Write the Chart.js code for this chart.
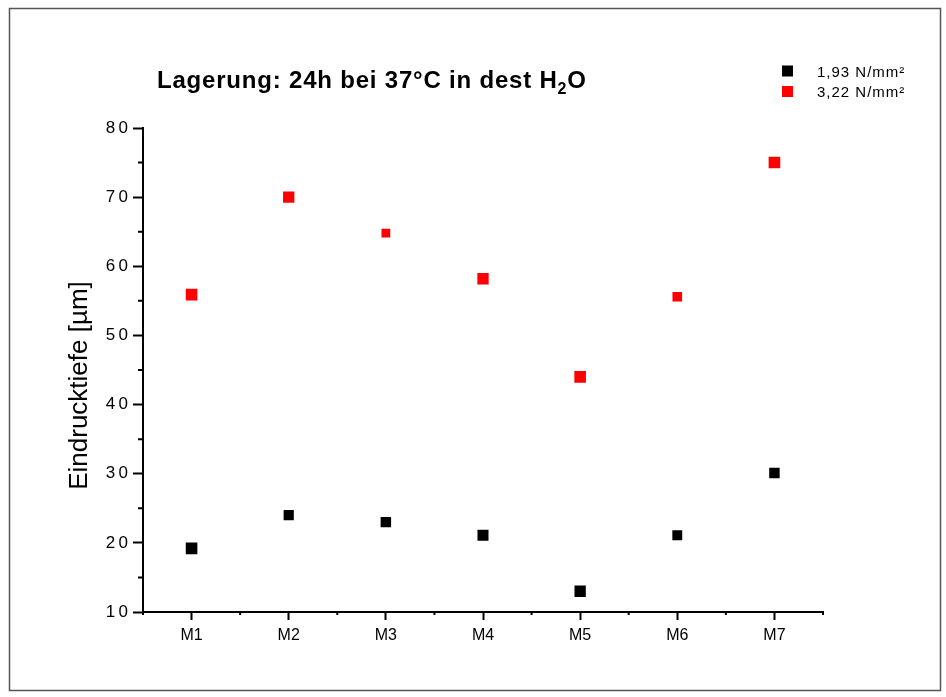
<!DOCTYPE html>
<html lang="de">
<head>
<meta charset="utf-8">
<title>Lagerung: 24h bei 37°C in dest H2O</title>
<script src="https://cdn.jsdelivr.net/npm/chart.js@4.4.1/dist/chart.umd.min.js"></script>
<style>
  html, body { margin: 0; padding: 0; background: #fff; }
  #wrap { position: relative; width: 946px; height: 697px; }
</style>
</head>
<body>
<div id="wrap"><canvas id="chart" width="946" height="697"></canvas></div>
<script>
// Daten
const categories = ['M1', 'M2', 'M3', 'M4', 'M5', 'M6', 'M7'];
const seriesLow = [19.2, 24.0, 23.0, 21.1, 13.0, 21.1, 30.1];   // 1,93 N/mm²
const seriesHigh = [55.9, 70.0, 64.8, 58.2, 44.0, 55.6, 75.0];  // 3,22 N/mm²
const seriesLabels = ['1,93 N/mm²', '3,22 N/mm²'];
const yTicks = [10, 20, 30, 40, 50, 60, 70, 80];

const titleMain = 'Lagerung: 24h bei 37°C in dest H';
const titleSub = '2';
const titleEnd = 'O';
const yTitle = 'Eindrucktiefe [µm]';

const FONT = "'Liberation Sans', Arial, sans-serif";
Chart.defaults.font.family = FONT;
Chart.defaults.color = '#000';

// Rahmen, Nebenstriche, Titel, Achsentitel und Legende
const decor = {
    id: 'decor',
    afterDraw(chart) {
        const ctx = chart.ctx;
        const x = chart.scales.x;
        const y = chart.scales.y;
        ctx.save();

        // Rahmen um die ganze Grafik
        ctx.strokeStyle = '#555';
        ctx.lineWidth = 1.5;
        ctx.strokeRect(9.5, 8.5, 931, 682);

        // Nebenstriche
        ctx.strokeStyle = '#000';
        ctx.lineWidth = 2;
        ctx.beginPath();
        for (let i = 0; i < yTicks.length - 1; i++) {
            const py = y.getPixelForValue((yTicks[i] + yTicks[i + 1]) / 2);
            ctx.moveTo(y.right - 5, py);
            ctx.lineTo(y.right, py);
        }
        for (let i = 0; i <= categories.length; i++) {
            let px;
            if (i === 0) px = x.left;
            else if (i === categories.length) px = x.right;
            else px = (x.getPixelForValue(i - 1) + x.getPixelForValue(i)) / 2;
            ctx.moveTo(px, x.top);
            ctx.lineTo(px, x.top + 3);
        }
        ctx.stroke();

        // Titel mit tiefgestellter 2
        ctx.fillStyle = '#000';
        ctx.textBaseline = 'alphabetic';
        ctx.textAlign = 'left';
        ctx.letterSpacing = '0.8px';
        ctx.font = 'bold 24px ' + FONT;
        let tx = 157;
        ctx.fillText(titleMain, tx, 88);
        tx += ctx.measureText(titleMain).width;
        ctx.font = 'bold 16px ' + FONT;
        ctx.fillText(titleSub, tx, 94);
        tx += ctx.measureText(titleSub).width;
        ctx.font = 'bold 24px ' + FONT;
        ctx.fillText(titleEnd, tx, 88);

        // Achsentitel
        ctx.letterSpacing = '0px';
        ctx.save();
        ctx.translate(87, 385.5);
        ctx.rotate(-Math.PI / 2);
        ctx.textAlign = 'center';
        ctx.font = '26px ' + FONT;
        ctx.fillText(yTitle, 0, 0);
        ctx.restore();

        // Legende
        ctx.letterSpacing = '1px';
        ctx.font = '15px ' + FONT;
        chart.data.datasets.forEach((ds, i) => {
            const cy = 71 + 20.5 * i;
            ctx.fillStyle = ds.backgroundColor;
            ctx.fillRect(782, cy - 5.5, 11, 11);
            ctx.fillStyle = '#000';
            ctx.fillText(ds.label, 817, cy + 5.5);
        });

        ctx.restore();
    }
};

new Chart(document.getElementById('chart'), {
    type: 'line',
    data: {
        labels: categories,
        datasets: [
            {
                label: seriesLabels[0],
                data: seriesLow,
                showLine: false,
                pointStyle: 'rect',
                backgroundColor: '#000000',
                borderColor: '#000000',
                pointBorderWidth: 0,
                pointRadius: [8.2, 7.2, 7.4, 7.8, 8, 7, 7.4]
            },
            {
                label: seriesLabels[1],
                data: seriesHigh,
                showLine: false,
                pointStyle: 'rect',
                backgroundColor: '#ff0000',
                borderColor: '#ff0000',
                pointBorderWidth: 0,
                pointRadius: [8.2, 8, 6.2, 8, 8.2, 6.8, 8.2]
            }
        ]
    },
    options: {
        responsive: false,
        animation: false,
        layout: { padding: { left: 0, top: 128, right: 123, bottom: 0 } },
        plugins: {
            legend: { display: false },
            title: { display: false },
            tooltip: { enabled: false }
        },
        scales: {
            x: {
                type: 'category',
                offset: true,
                afterFit: (s) => { s.height = 85; },
                border: { display: true, color: '#000', width: 2 },
                grid: {
                    display: true,
                    drawOnChartArea: false,
                    drawTicks: true,
                    tickLength: 8,
                    tickWidth: 2,
                    tickColor: '#000',
                    offset: false
                },
                ticks: {
                    color: '#000',
                    font: { size: 16 },
                    padding: 6,
                    maxRotation: 0
                }
            },
            y: {
                min: 10,
                max: 80,
                afterFit: (s) => { s.width = 143; },
                afterBuildTicks: (s) => { s.ticks = yTicks.map(v => ({ value: v })); },
                border: { display: true, color: '#000', width: 2 },
                grid: {
                    display: true,
                    drawOnChartArea: false,
                    drawTicks: true,
                    tickLength: 10,
                    tickWidth: 2,
                    tickColor: '#000'
                },
                ticks: {
                    color: '#000',
                    font: { size: 17 },
                    padding: 5,
                    callback: (v) => String(v).split('').join('\u2009')
                }
            }
        }
    },
    plugins: [decor]
});
</script>
</body>
</html>
